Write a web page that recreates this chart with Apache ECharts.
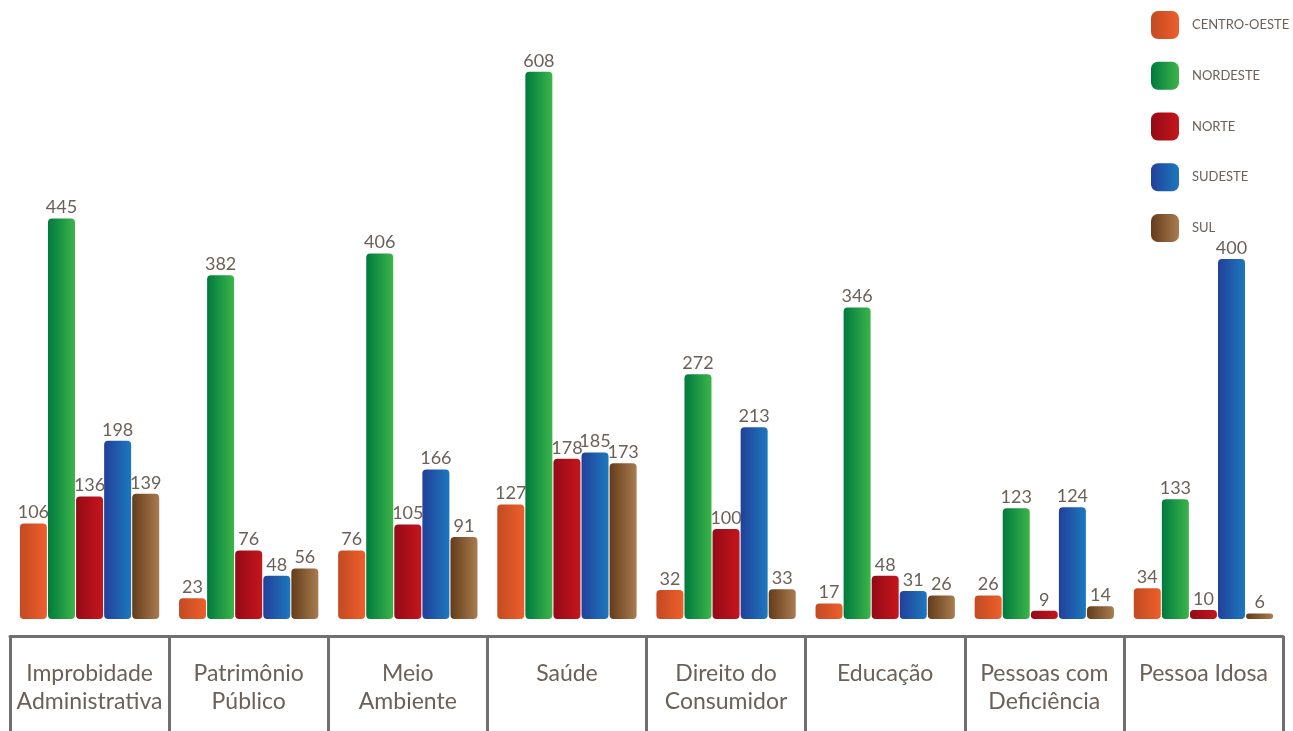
<!DOCTYPE html>
<html><head><meta charset="utf-8">
<script src="https://cdn.jsdelivr.net/npm/echarts@6/dist/echarts.min.js"></script>
<style>html,body{margin:0;padding:0;background:#fff}#c{width:1293px;height:731px}</style>
</head><body><div id="c"></div>
<script>
const categories = ['Improbidade\nAdministrativa','Patrimônio\nPúblico','Meio\nAmbiente','Saúde','Direito do\nConsumidor','Educação','Pessoas com\nDeficiência','Pessoa Idosa'];
const seriesNames = ['CENTRO-OESTE','NORDESTE','NORTE','SUDESTE','SUL'];
const centroOeste = [106, 23, 76, 127, 32, 17, 26, 34];
const nordeste = [445, 382, 406, 608, 272, 346, 123, 133];
const norte = [136, 76, 105, 178, 100, 48, 9, 10];
const sudeste = [198, 48, 166, 185, 213, 31, 124, 400];
const sul = [139, 56, 91, 173, 33, 26, 14, 6];
const values = [centroOeste, nordeste, norte, sudeste, sul];
const colorPairs = [['#c24a22','#ee5f2c'],['#007a3d','#3cb54a'],['#950a17','#c4161c'],['#22409a','#1c78be'],['#643c1a','#a97c50']];
const textColor = '#6b6158';
const font = 'Lato, "Open Sans", sans-serif';

function grad(p){ return new echarts.graphic.LinearGradient(0,0,1,0,[{offset:0,color:p[0]},{offset:1,color:p[1]}]); }

const chart = echarts.init(document.getElementById('c'));
chart.setOption({
  animation:false,
  textStyle:{fontFamily:font},
  grid:{left:10,right:10,top:34,bottom:95},
  legend:{
    orient:'vertical', left:1151, top:11, padding:0, itemWidth:28, itemHeight:28, itemGap:22.75,
    icon:'roundRect', data:seriesNames,
    textStyle:{color:textColor,fontSize:13,fontFamily:font,padding:[0,0,0,8]}
  },
  xAxis:{
    type:'category', data:categories,
    axisLine:{show:true,onZero:false,lineStyle:{color:'#707070',width:3}},
    axisTick:{show:true,length:110,lineStyle:{color:'#707070',width:3}},
    axisLabel:{color:textColor,fontSize:23,lineHeight:28,margin:24,fontFamily:font,interval:0}
  },
  yAxis:{type:'value',min:-19,max:650,show:false,splitLine:{show:false}},
  series: seriesNames.map((n,i)=>({
    name:n, type:'bar', data:values[i], barWidth:27, barGap:'4%',
    itemStyle:{color:grad(colorPairs[i]), borderRadius:4},
    label:{show:true,position:'top',distance:2,color:textColor,fontSize:18,fontFamily:font}
  }))
});
</script></body></html>
